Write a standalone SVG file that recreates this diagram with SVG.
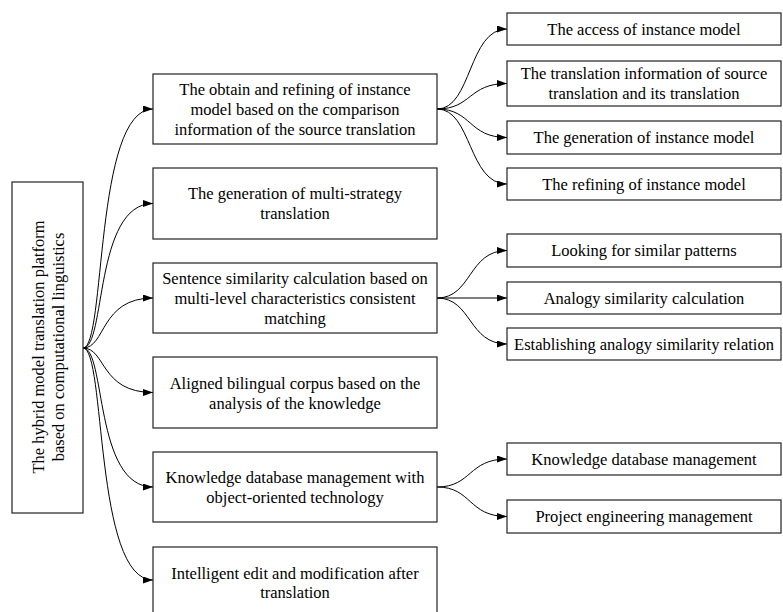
<svg xmlns="http://www.w3.org/2000/svg" width="783" height="612" viewBox="0 0 783 612">
<style>
.box{fill:#fff;stroke:#222;stroke-width:1.2}
.t{font-family:"Liberation Serif","Times New Roman",serif;font-size:16.5px;fill:#000;text-anchor:middle}
.c{fill:none;stroke:#000;stroke-width:1;marker-end:url(#ah)}
</style>
<defs>
<marker id="ah" markerUnits="userSpaceOnUse" markerWidth="10" markerHeight="7" refX="10" refY="3.5" orient="auto">
<path d="M0,0 L10,3.5 L0,7 z" fill="#000"/>
</marker>
</defs>
<rect width="783" height="612" fill="#fff"/>
<g id="connectors">
<path class="c" d="M83,348 C106,348 94,109 153,109"/>
<path class="c" d="M83,348 C106,348 94,203.5 153,203.5"/>
<path class="c" d="M83,348 C106,348 100,298 153,298"/>
<path class="c" d="M83,348 C106,348 100,392.5 153,392.5"/>
<path class="c" d="M83,348 C106,348 94,487 153,487"/>
<path class="c" d="M83,348 C106,348 94,580 153,580"/>
<path class="c" d="M437,109 C472,109 468,29 507,29"/>
<path class="c" d="M437,109 C472,109 468,83.5 507,83.5"/>
<path class="c" d="M437,109 C472,109 468,137.5 507,137.5"/>
<path class="c" d="M437,109 C472,109 468,184 507,184"/>
<path class="c" d="M437,298 C472,298 468,250.5 507,250.5"/>
<path class="c" d="M437,298 L507,298"/>
<path class="c" d="M437,298 C472,298 468,344 507,344"/>
<path class="c" d="M437,487 C472,487 468,459 507,459"/>
<path class="c" d="M437,487 C472,487 468,516.5 507,516.5"/>
</g>
<g id="root">
<rect class="box" x="12" y="182" width="71" height="331"/>
<text class="t" transform="translate(44,347) rotate(-90)">The hybrid model translation platform</text>
<text class="t" transform="translate(64,347) rotate(-90)">based on computational linguistics</text>
</g>
<g id="m1">
<rect class="box" x="153" y="74" width="284" height="70"/>
<text class="t" x="295" y="94.5">The obtain and refining of instance</text>
<text class="t" x="295" y="114.5">model based on the comparison</text>
<text class="t" x="295" y="134.5">information of the source translation</text>
</g>
<g id="m2">
<rect class="box" x="153" y="168" width="284" height="71"/>
<text class="t" x="295" y="199">The generation of multi-strategy</text>
<text class="t" x="295" y="219">translation</text>
</g>
<g id="m3">
<rect class="box" x="153" y="263" width="284" height="70"/>
<text class="t" x="295" y="283.5">Sentence similarity calculation based on</text>
<text class="t" x="295" y="303.5">multi-level characteristics consistent</text>
<text class="t" x="295" y="323.5">matching</text>
</g>
<g id="m4">
<rect class="box" x="153" y="357" width="284" height="71"/>
<text class="t" x="295" y="388.5">Aligned bilingual corpus based on the</text>
<text class="t" x="295" y="408.5">analysis of the knowledge</text>
</g>
<g id="m5">
<rect class="box" x="153" y="452" width="284" height="70"/>
<text class="t" x="295" y="482.5">Knowledge database management with</text>
<text class="t" x="295" y="502.5">object-oriented technology</text>
</g>
<g id="m6">
<rect class="box" x="153" y="547" width="284" height="70"/>
<text class="t" x="295" y="578.5">Intelligent edit and modification after</text>
<text class="t" x="295" y="598">translation</text>
</g>
<g id="r1">
<rect class="box" x="507" y="13" width="274" height="32"/>
<text class="t" x="644" y="34.5">The access of instance model</text>
</g>
<g id="r2">
<rect class="box" x="507" y="61" width="274" height="45"/>
<text class="t" x="644" y="78.5">The translation information of source</text>
<text class="t" x="644" y="98.5">translation and its translation</text>
</g>
<g id="r3">
<rect class="box" x="507" y="121" width="274" height="33"/>
<text class="t" x="644" y="143">The generation of instance model</text>
</g>
<g id="r4">
<rect class="box" x="507" y="168" width="274" height="32"/>
<text class="t" x="644" y="189.5">The refining of instance model</text>
</g>
<g id="r5">
<rect class="box" x="507" y="234" width="274" height="33"/>
<text class="t" x="644" y="256">Looking for similar patterns</text>
</g>
<g id="r6">
<rect class="box" x="507" y="282" width="274" height="32"/>
<text class="t" x="644" y="303.5">Analogy similarity calculation</text>
</g>
<g id="r7">
<rect class="box" x="507" y="328" width="274" height="32"/>
<text class="t" x="644" y="349.5">Establishing analogy similarity relation</text>
</g>
<g id="r8">
<rect class="box" x="507" y="443" width="274" height="32"/>
<text class="t" x="644" y="464.5">Knowledge database management</text>
</g>
<g id="r9">
<rect class="box" x="507" y="500" width="274" height="33"/>
<text class="t" x="644" y="522">Project engineering management</text>
</g>
</svg>
